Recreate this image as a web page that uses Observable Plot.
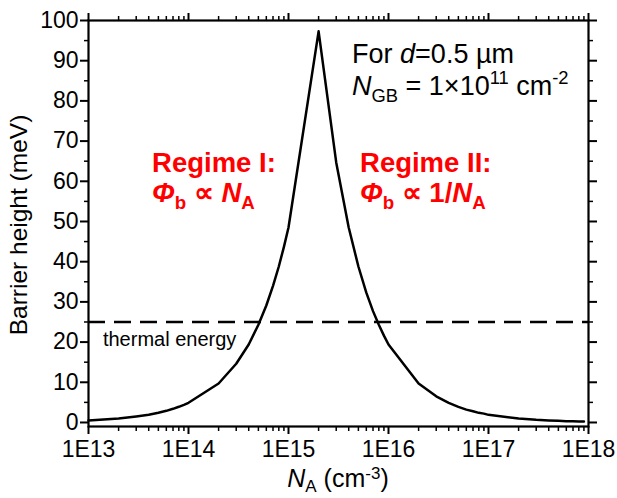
<!DOCTYPE html>
<html><head><meta charset="utf-8">
<script src="https://cdn.jsdelivr.net/npm/d3@7"></script>
<script src="https://cdn.jsdelivr.net/npm/@observablehq/plot@0.6"></script>
<style>body{margin:0;background:#fff;overflow:hidden}</style>
</head><body><div id="chart"></div>
<script>
// Acceptor concentration N_A (cm^-3)
const nA = [
  1e13, 2e13, 3e13, 4e13, 5e13, 6e13, 7e13, 8e13, 9e13,
  1e14, 2e14, 3e14, 4e14, 5e14, 6e14, 7e14, 8e14, 9e14,
  1e15, 2e15, 3e15, 4e15, 5e15, 6e15, 7e15, 8e15, 9e15,
  1e16, 2e16, 3e16, 4e16, 5e16, 6e16, 7e16, 8e16, 9e16,
  1e17, 2e17, 3e17, 4e17, 5e17, 6e17, 7e17, 8e17, 9e17
];
// Barrier height (meV)
const barrier = [
  0.5, 1.0, 1.5, 1.9, 2.4, 2.9, 3.4, 3.9, 4.4,
  4.9, 9.7, 14.6, 19.4, 24.3, 29.1, 34.0, 38.8, 43.7,
  48.5, 97.3, 64.7, 48.5, 38.8, 32.3, 27.7, 24.3, 21.6,
  19.4, 9.7, 6.5, 4.9, 3.9, 3.2, 2.8, 2.4, 2.2,
  1.9, 1.0, 0.65, 0.5, 0.4, 0.32, 0.28, 0.24, 0.22
];
const thermalEnergy = [25];
const xMajorTicks = [1e13, 1e14, 1e15, 1e16, 1e17, 1e18];
const xMinorTicks = [
  2e13, 3e13, 4e13, 5e13, 6e13, 7e13, 8e13, 9e13,
  2e14, 3e14, 4e14, 5e14, 6e14, 7e14, 8e14, 9e14,
  2e15, 3e15, 4e15, 5e15, 6e15, 7e15, 8e15, 9e15,
  2e16, 3e16, 4e16, 5e16, 6e16, 7e16, 8e16, 9e16,
  2e17, 3e17, 4e17, 5e17, 6e17, 7e17, 8e17, 9e17
];
const yMajorTicks = [0, 10, 20, 30, 40, 50, 60, 70, 80, 90, 100];
const yMinorTicks = [5, 15, 25, 35, 45, 55, 65, 75, 85, 95];

const data = nA.map((x, i) => ({x, y: barrier[i]}));
const FONT = "'Liberation Sans', Arial, Helvetica, sans-serif";
const blank = () => "";

function richText(g, x, y, parts, o) {
  const t = g.append("text").attr("x", x).attr("y", y)
    .attr("font-family", FONT).attr("font-size", o.size)
    .attr("fill", o.fill || "black").attr("text-anchor", o.anchor || "start");
  if (o.weight) t.attr("font-weight", o.weight);
  if (o.transform) t.attr("transform", o.transform);
  let cur = 0;
  const supShift = o.supShift || 0.40;
  const subShift = o.subShift || 0.24;
  for (const p of parts) {
    const shift = p.sub ? o.size * subShift : p.sup ? -o.size * supShift : 0;
    const s = t.append("tspan").text(p.t).attr("dy", shift - cur);
    cur = shift;
    if (p.sub || p.sup) s.attr("font-size", o.size * 0.68);
    if (p.i) s.attr("font-style", "italic");
  }
  return t;
}

const annotations = (index, scales, values, dims) => {
  const g = d3.create("svg:g");
  const X = scales.x, Y = scales.y;
  richText(g, X(4.37e15), Y(89.3), [{t: "For "}, {t: "d", i: true}, {t: "=0.5 µm"}], {size: 27});
  richText(g, X(4.37e15), Y(81.3), [{t: "N", i: true}, {t: "GB", sub: true}, {t: " = 1×10"}, {t: "11", sup: true}, {t: " cm"}, {t: "-2", sup: true}], {size: 27});
  richText(g, X(4.37e13), Y(62.2), [{t: "Regime I:"}], {size: 27.5, weight: "bold", fill: "#ff0000"});
  richText(g, X(4.37e13), Y(54.7), [{t: "Φ", i: true}, {t: "b", sub: true}, {t: " ∝ "}, {t: "N", i: true}, {t: "A", sub: true}], {size: 27.5, weight: "bold", fill: "#ff0000"});
  richText(g, X(5.25e15), Y(62.2), [{t: "Regime II:"}], {size: 27.5, weight: "bold", fill: "#ff0000"});
  richText(g, X(5.25e15), Y(54.7), [{t: "Φ", i: true}, {t: "b", sub: true}, {t: " ∝ 1/"}, {t: "N", i: true}, {t: "A", sub: true}], {size: 27.5, weight: "bold", fill: "#ff0000"});
  richText(g, X(1.41e13), Y(18.9), [{t: "thermal energy"}], {size: 20});
  // axis titles
  const cx = (dims.marginLeft + dims.width - dims.marginRight) / 2;
  const cy = (dims.marginTop + dims.height - dims.marginBottom) / 2;
  richText(g, cx, 487, [{t: "N", i: true}, {t: "A", sub: true}, {t: " (cm"}, {t: "-3", sup: true}, {t: ")"}], {size: 25, anchor: "middle", supShift: 0.32, subShift: 0.2});
  richText(g, 0, 0, [{t: "Barrier height (meV)"}], {size: 24.5, anchor: "middle", transform: `translate(27,${cy + 2}) rotate(-90)`});
  return g.node();
};

const chart = Plot.plot({
  width: 617,
  height: 498,
  marginLeft: 88,
  marginRight: 29,
  marginTop: 20,
  marginBottom: 72,
  style: {fontFamily: FONT, fontSize: "23px", color: "black", background: "white"},
  x: {type: "log", domain: [1e13, 1e18]},
  y: {domain: [-1, 100]},
  marks: [
    Plot.axisX(xMajorTicks, {anchor: "bottom", tickSize: 8, tickPadding: 6, strokeWidth: 2, tickFormat: d => "1E" + Math.round(Math.log10(d)), label: null}),
    Plot.axisX(xMinorTicks, {anchor: "bottom", tickSize: 5, strokeWidth: 1.5, tickFormat: blank, label: null}),
    Plot.axisX(xMajorTicks, {anchor: "top", tickSize: 8, strokeWidth: 2, tickFormat: blank, label: null}),
    Plot.axisX(xMinorTicks, {anchor: "top", tickSize: 5, strokeWidth: 1.5, tickFormat: blank, label: null}),
    Plot.axisY(yMajorTicks, {anchor: "left", tickSize: 8, tickPadding: 2, strokeWidth: 2, label: null}),
    Plot.axisY(yMinorTicks, {anchor: "left", tickSize: 4, strokeWidth: 1.5, tickFormat: blank, label: null}),
    Plot.axisY(yMajorTicks, {anchor: "right", tickSize: 8, strokeWidth: 2, tickFormat: blank, label: null}),
    Plot.axisY(yMinorTicks, {anchor: "right", tickSize: 4, strokeWidth: 1.5, tickFormat: blank, label: null}),
    Plot.ruleY(thermalEnergy, {stroke: "black", strokeWidth: 2.5, strokeDasharray: "17,9"}),
    Plot.line(data, {x: "x", y: "y", stroke: "black", strokeWidth: 2.5}),
    Plot.frame({stroke: "black", strokeWidth: 2.2}),
    annotations
  ]
});
document.getElementById("chart").appendChild(chart);
</script>
</body></html>
